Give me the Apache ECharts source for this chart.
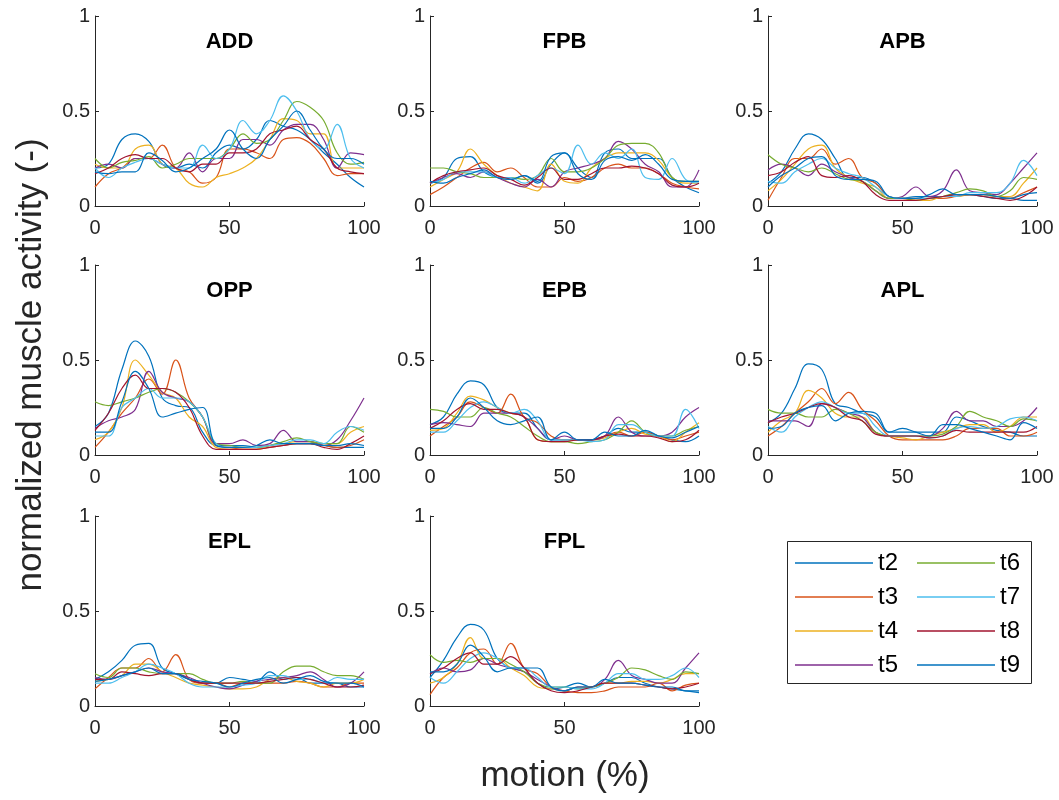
<!DOCTYPE html>
<html>
<head>
    <meta charset="utf-8">
    <title>normalized muscle activity</title>
    <script src="https://cdn.jsdelivr.net/npm/echarts@6/dist/echarts.min.js"></script>
    <style>
        html, body { margin: 0; padding: 0; background: #ffffff; }
        #main { width: 1059px; height: 800px; }
    </style>
</head>
<body>
<div id="main"></div>
<script>
    // x positions (% of motion), sampled every 5 %
    const motion = [0, 5, 10, 15, 20, 25, 30, 35, 40, 45, 50, 55, 60, 65, 70, 75, 80, 85, 90, 95, 100];
    const trials = ['t2', 't3', 't4', 't5', 't6', 't7', 't8', 't9'];
    const muscles = ['ADD', 'FPB', 'APB', 'OPP', 'EPB', 'APL', 'EPL', 'FPL'];
    const yTicks = [0, 0.5, 1];
    const xTicks = [0, 50, 100];

    // one row per trial, same order as trials
    const ADD = [
        [0.20, 0.22, 0.35, 0.38, 0.34, 0.22, 0.20, 0.22, 0.20, 0.28, 0.32, 0.30, 0.35, 0.45, 0.42, 0.40, 0.35, 0.28, 0.22, 0.15, 0.10],
        [0.10, 0.17, 0.20, 0.25, 0.25, 0.32, 0.20, 0.18, 0.12, 0.15, 0.30, 0.30, 0.28, 0.25, 0.35, 0.36, 0.33, 0.25, 0.16, 0.17, 0.17],
        [0.22, 0.20, 0.20, 0.30, 0.32, 0.22, 0.20, 0.12, 0.10, 0.15, 0.17, 0.20, 0.25, 0.35, 0.46, 0.45, 0.38, 0.38, 0.20, 0.20, 0.20],
        [0.20, 0.22, 0.20, 0.25, 0.25, 0.22, 0.20, 0.28, 0.18, 0.25, 0.25, 0.35, 0.35, 0.32, 0.40, 0.43, 0.43, 0.35, 0.20, 0.28, 0.27],
        [0.25, 0.20, 0.23, 0.24, 0.26, 0.20, 0.22, 0.25, 0.25, 0.25, 0.30, 0.38, 0.33, 0.35, 0.45, 0.55, 0.52, 0.45, 0.28, 0.22, 0.23],
        [0.20, 0.15, 0.20, 0.23, 0.25, 0.22, 0.20, 0.20, 0.32, 0.25, 0.30, 0.45, 0.38, 0.45, 0.58, 0.50, 0.35, 0.30, 0.43, 0.25, 0.20],
        [0.17, 0.20, 0.25, 0.27, 0.25, 0.25, 0.20, 0.18, 0.22, 0.22, 0.28, 0.28, 0.30, 0.38, 0.40, 0.42, 0.35, 0.30, 0.20, 0.18, 0.17],
        [0.18, 0.17, 0.18, 0.18, 0.28, 0.24, 0.18, 0.20, 0.25, 0.30, 0.40, 0.30, 0.25, 0.35, 0.42, 0.50, 0.40, 0.30, 0.25, 0.25, 0.22]
    ];
    const FPB = [
        [0.12, 0.15, 0.25, 0.26, 0.18, 0.15, 0.14, 0.16, 0.12, 0.22, 0.28, 0.20, 0.15, 0.28, 0.30, 0.25, 0.25, 0.25, 0.15, 0.10, 0.07],
        [0.06, 0.10, 0.15, 0.20, 0.23, 0.18, 0.20, 0.15, 0.10, 0.10, 0.15, 0.13, 0.15, 0.20, 0.22, 0.20, 0.20, 0.17, 0.12, 0.10, 0.09],
        [0.10, 0.14, 0.18, 0.30, 0.22, 0.16, 0.12, 0.10, 0.08, 0.22, 0.13, 0.12, 0.20, 0.25, 0.28, 0.28, 0.28, 0.24, 0.15, 0.12, 0.12],
        [0.12, 0.15, 0.17, 0.15, 0.18, 0.15, 0.12, 0.10, 0.14, 0.10, 0.18, 0.20, 0.22, 0.25, 0.34, 0.30, 0.22, 0.18, 0.10, 0.10, 0.19],
        [0.20, 0.20, 0.18, 0.17, 0.15, 0.15, 0.15, 0.14, 0.16, 0.25, 0.18, 0.18, 0.20, 0.25, 0.32, 0.33, 0.33, 0.28, 0.15, 0.13, 0.13],
        [0.12, 0.14, 0.18, 0.18, 0.18, 0.15, 0.15, 0.12, 0.16, 0.20, 0.17, 0.32, 0.22, 0.28, 0.25, 0.30, 0.15, 0.14, 0.25, 0.14, 0.12],
        [0.12, 0.16, 0.18, 0.19, 0.20, 0.16, 0.14, 0.11, 0.15, 0.20, 0.14, 0.14, 0.17, 0.20, 0.20, 0.21, 0.20, 0.17, 0.11, 0.10, 0.12],
        [0.13, 0.12, 0.15, 0.17, 0.19, 0.15, 0.14, 0.16, 0.13, 0.26, 0.28, 0.17, 0.14, 0.24, 0.26, 0.24, 0.27, 0.22, 0.14, 0.13, 0.13]
    ];
    const APB = [
        [0.12, 0.18, 0.30, 0.38, 0.35, 0.25, 0.15, 0.15, 0.12, 0.05, 0.04, 0.05, 0.05, 0.05, 0.06, 0.06, 0.05, 0.04, 0.04, 0.03, 0.03],
        [0.03, 0.15, 0.25, 0.25, 0.30, 0.22, 0.25, 0.15, 0.12, 0.05, 0.04, 0.04, 0.04, 0.04, 0.05, 0.06, 0.06, 0.05, 0.04, 0.07, 0.10],
        [0.08, 0.14, 0.22, 0.30, 0.32, 0.20, 0.15, 0.12, 0.10, 0.04, 0.04, 0.03, 0.03, 0.05, 0.05, 0.06, 0.06, 0.05, 0.05, 0.12, 0.20],
        [0.19, 0.22, 0.20, 0.16, 0.22, 0.18, 0.15, 0.13, 0.08, 0.04, 0.05, 0.10, 0.05, 0.08, 0.19, 0.08, 0.07, 0.06, 0.12, 0.20, 0.28],
        [0.27, 0.22, 0.20, 0.18, 0.20, 0.17, 0.14, 0.13, 0.08, 0.04, 0.04, 0.03, 0.04, 0.05, 0.07, 0.09, 0.08, 0.05, 0.08, 0.15, 0.14],
        [0.13, 0.12, 0.18, 0.22, 0.25, 0.20, 0.17, 0.15, 0.10, 0.05, 0.04, 0.04, 0.04, 0.05, 0.05, 0.07, 0.07, 0.07, 0.12, 0.24, 0.16],
        [0.16, 0.18, 0.23, 0.26, 0.16, 0.15, 0.16, 0.13, 0.06, 0.03, 0.03, 0.03, 0.04, 0.05, 0.06, 0.06, 0.05, 0.04, 0.03, 0.05, 0.10],
        [0.10, 0.16, 0.20, 0.25, 0.26, 0.16, 0.14, 0.14, 0.13, 0.05, 0.04, 0.04, 0.06, 0.09, 0.06, 0.06, 0.06, 0.05, 0.04, 0.06, 0.07]
    ];
    const OPP = [
        [0.15, 0.22, 0.45, 0.60, 0.52, 0.30, 0.26, 0.25, 0.12, 0.05, 0.05, 0.05, 0.04, 0.05, 0.06, 0.06, 0.06, 0.05, 0.04, 0.04, 0.04],
        [0.04, 0.12, 0.22, 0.30, 0.40, 0.32, 0.50, 0.30, 0.20, 0.05, 0.04, 0.03, 0.03, 0.04, 0.05, 0.06, 0.06, 0.05, 0.04, 0.05, 0.08],
        [0.08, 0.12, 0.25, 0.50, 0.42, 0.33, 0.30, 0.20, 0.15, 0.04, 0.03, 0.03, 0.03, 0.05, 0.06, 0.07, 0.07, 0.06, 0.06, 0.12, 0.15],
        [0.14, 0.18, 0.20, 0.24, 0.44, 0.33, 0.30, 0.28, 0.20, 0.06, 0.06, 0.08, 0.05, 0.06, 0.13, 0.07, 0.07, 0.05, 0.08, 0.18, 0.30],
        [0.28, 0.26, 0.28, 0.30, 0.33, 0.35, 0.33, 0.28, 0.20, 0.06, 0.05, 0.04, 0.04, 0.05, 0.07, 0.09, 0.07, 0.06, 0.06, 0.15, 0.12],
        [0.10, 0.10, 0.25, 0.30, 0.35, 0.30, 0.30, 0.28, 0.20, 0.06, 0.04, 0.04, 0.04, 0.05, 0.06, 0.08, 0.08, 0.06, 0.12, 0.15, 0.13],
        [0.13, 0.22, 0.35, 0.42, 0.35, 0.35, 0.33, 0.25, 0.10, 0.03, 0.03, 0.03, 0.03, 0.04, 0.05, 0.06, 0.06, 0.04, 0.03, 0.06, 0.10],
        [0.12, 0.12, 0.28, 0.44, 0.35, 0.20, 0.22, 0.24, 0.25, 0.05, 0.04, 0.04, 0.05, 0.08, 0.06, 0.06, 0.06, 0.05, 0.05, 0.06, 0.05]
    ];
    const EPB = [
        [0.16, 0.20, 0.32, 0.39, 0.37, 0.25, 0.22, 0.22, 0.14, 0.08, 0.08, 0.08, 0.08, 0.10, 0.14, 0.12, 0.12, 0.10, 0.08, 0.07, 0.10],
        [0.10, 0.15, 0.20, 0.28, 0.25, 0.22, 0.32, 0.20, 0.17, 0.10, 0.08, 0.08, 0.08, 0.10, 0.12, 0.10, 0.12, 0.10, 0.08, 0.10, 0.12],
        [0.13, 0.14, 0.22, 0.31, 0.29, 0.25, 0.22, 0.20, 0.08, 0.07, 0.07, 0.08, 0.08, 0.09, 0.12, 0.14, 0.11, 0.10, 0.07, 0.12, 0.17],
        [0.16, 0.17, 0.16, 0.15, 0.22, 0.22, 0.22, 0.20, 0.14, 0.08, 0.10, 0.08, 0.08, 0.10, 0.20, 0.12, 0.10, 0.10, 0.12, 0.20, 0.25],
        [0.24, 0.23, 0.20, 0.20, 0.25, 0.22, 0.20, 0.15, 0.10, 0.07, 0.07, 0.06, 0.07, 0.08, 0.12, 0.18, 0.12, 0.10, 0.10, 0.13, 0.15],
        [0.12, 0.12, 0.18, 0.25, 0.28, 0.25, 0.22, 0.24, 0.18, 0.08, 0.08, 0.08, 0.07, 0.08, 0.16, 0.16, 0.12, 0.10, 0.10, 0.24, 0.14],
        [0.14, 0.18, 0.24, 0.27, 0.24, 0.24, 0.22, 0.20, 0.08, 0.07, 0.07, 0.08, 0.08, 0.10, 0.11, 0.10, 0.10, 0.09, 0.07, 0.08, 0.13],
        [0.14, 0.14, 0.20, 0.30, 0.25, 0.18, 0.16, 0.18, 0.20, 0.08, 0.12, 0.08, 0.08, 0.12, 0.10, 0.10, 0.13, 0.10, 0.09, 0.12, 0.15]
    ];
    const APL = [
        [0.17, 0.22, 0.35, 0.48, 0.45, 0.27, 0.25, 0.22, 0.20, 0.12, 0.12, 0.12, 0.12, 0.12, 0.20, 0.18, 0.15, 0.13, 0.12, 0.10, 0.10],
        [0.10, 0.15, 0.22, 0.28, 0.35, 0.27, 0.33, 0.24, 0.18, 0.10, 0.08, 0.08, 0.08, 0.08, 0.10, 0.14, 0.14, 0.14, 0.10, 0.10, 0.12],
        [0.12, 0.18, 0.22, 0.34, 0.30, 0.22, 0.20, 0.20, 0.12, 0.10, 0.09, 0.08, 0.10, 0.12, 0.14, 0.16, 0.16, 0.12, 0.15, 0.20, 0.20],
        [0.18, 0.18, 0.18, 0.15, 0.27, 0.25, 0.22, 0.20, 0.12, 0.10, 0.10, 0.10, 0.10, 0.14, 0.23, 0.18, 0.18, 0.15, 0.15, 0.18, 0.25],
        [0.24, 0.22, 0.22, 0.20, 0.20, 0.24, 0.22, 0.18, 0.12, 0.10, 0.10, 0.10, 0.10, 0.11, 0.15, 0.23, 0.20, 0.18, 0.15, 0.19, 0.18],
        [0.15, 0.12, 0.20, 0.25, 0.28, 0.25, 0.22, 0.22, 0.15, 0.10, 0.10, 0.10, 0.09, 0.10, 0.14, 0.15, 0.14, 0.15, 0.19, 0.20, 0.18],
        [0.17, 0.20, 0.22, 0.25, 0.27, 0.25, 0.20, 0.18, 0.11, 0.10, 0.10, 0.10, 0.09, 0.10, 0.13, 0.12, 0.12, 0.12, 0.12, 0.12, 0.15],
        [0.14, 0.15, 0.22, 0.25, 0.26, 0.18, 0.22, 0.23, 0.22, 0.12, 0.14, 0.12, 0.10, 0.16, 0.16, 0.14, 0.12, 0.10, 0.08, 0.17, 0.14]
    ];
    const EPL = [
        [0.14, 0.18, 0.24, 0.32, 0.33, 0.20, 0.17, 0.14, 0.12, 0.12, 0.15, 0.14, 0.13, 0.18, 0.14, 0.15, 0.12, 0.12, 0.12, 0.10, 0.10],
        [0.09, 0.15, 0.20, 0.20, 0.25, 0.18, 0.27, 0.14, 0.12, 0.12, 0.10, 0.12, 0.12, 0.12, 0.12, 0.13, 0.12, 0.10, 0.10, 0.12, 0.12],
        [0.13, 0.14, 0.16, 0.22, 0.22, 0.18, 0.15, 0.12, 0.11, 0.10, 0.09, 0.09, 0.10, 0.14, 0.15, 0.13, 0.12, 0.10, 0.12, 0.12, 0.14],
        [0.15, 0.14, 0.16, 0.18, 0.20, 0.18, 0.17, 0.15, 0.12, 0.10, 0.09, 0.11, 0.13, 0.14, 0.15, 0.16, 0.18, 0.14, 0.10, 0.12, 0.18],
        [0.17, 0.15, 0.20, 0.20, 0.18, 0.17, 0.17, 0.17, 0.14, 0.12, 0.12, 0.13, 0.12, 0.12, 0.18, 0.21, 0.21, 0.18, 0.16, 0.16, 0.14],
        [0.12, 0.12, 0.15, 0.18, 0.22, 0.20, 0.17, 0.12, 0.10, 0.10, 0.10, 0.11, 0.12, 0.16, 0.16, 0.14, 0.14, 0.12, 0.15, 0.14, 0.14],
        [0.14, 0.14, 0.18, 0.17, 0.16, 0.17, 0.17, 0.14, 0.12, 0.12, 0.12, 0.12, 0.12, 0.13, 0.14, 0.15, 0.14, 0.12, 0.10, 0.10, 0.11],
        [0.13, 0.14, 0.16, 0.18, 0.20, 0.17, 0.17, 0.14, 0.13, 0.12, 0.10, 0.12, 0.14, 0.15, 0.12, 0.14, 0.16, 0.13, 0.12, 0.12, 0.10]
    ];
    const FPL = [
        [0.15, 0.24, 0.36, 0.43, 0.40, 0.25, 0.20, 0.18, 0.12, 0.09, 0.10, 0.12, 0.10, 0.12, 0.15, 0.15, 0.12, 0.10, 0.09, 0.08, 0.07],
        [0.06, 0.15, 0.20, 0.28, 0.30, 0.22, 0.33, 0.20, 0.17, 0.10, 0.08, 0.07, 0.07, 0.08, 0.10, 0.10, 0.10, 0.12, 0.08, 0.11, 0.12],
        [0.12, 0.15, 0.22, 0.36, 0.25, 0.25, 0.20, 0.16, 0.10, 0.09, 0.08, 0.10, 0.10, 0.12, 0.12, 0.13, 0.13, 0.12, 0.14, 0.17, 0.17],
        [0.17, 0.20, 0.18, 0.19, 0.25, 0.22, 0.20, 0.18, 0.14, 0.10, 0.08, 0.10, 0.10, 0.14, 0.24, 0.16, 0.14, 0.12, 0.12, 0.20, 0.28],
        [0.27, 0.23, 0.24, 0.23, 0.25, 0.25, 0.22, 0.18, 0.12, 0.10, 0.10, 0.09, 0.10, 0.12, 0.15, 0.20, 0.19, 0.16, 0.14, 0.18, 0.17],
        [0.15, 0.12, 0.18, 0.25, 0.28, 0.25, 0.20, 0.20, 0.15, 0.10, 0.10, 0.09, 0.09, 0.12, 0.17, 0.17, 0.14, 0.14, 0.16, 0.20, 0.15],
        [0.17, 0.20, 0.25, 0.28, 0.22, 0.22, 0.26, 0.20, 0.12, 0.08, 0.07, 0.08, 0.10, 0.12, 0.12, 0.12, 0.11, 0.10, 0.09, 0.10, 0.12],
        [0.18, 0.18, 0.22, 0.32, 0.26, 0.18, 0.20, 0.20, 0.20, 0.10, 0.08, 0.10, 0.10, 0.14, 0.12, 0.12, 0.11, 0.10, 0.10, 0.08, 0.08]
    ];
    const muscleData = [ADD, FPB, APB, OPP, EPB, APL, EPL, FPL];

    // MATLAB default line order (8th wraps back to the first)
    const colors = ['#0072BD', '#D95319', '#EDB120', '#7E2F8E', '#77AC30', '#4DBEEE', '#A2142F', '#0072BD'];

    var chart = echarts.init(document.getElementById('main'));

    var colLeft = [95, 430, 768];
    var rowTop = [16, 265, 516];
    var W = 269, H = 190;
    var font = '"Liberation Sans", Helvetica, Arial, sans-serif';
    var axisColor = '#262626';

    var grids = [], xAxes = [], yAxes = [], series = [], graphics = [];

    muscles.forEach(function (m, i) {
        var left = colLeft[i % 3], top = rowTop[Math.floor(i / 3)];
        grids.push({left: left, top: top, width: W, height: H});
        xAxes.push({
            type: 'value', gridIndex: i, min: xTicks[0], max: xTicks[2], interval: 50,
            axisLine: {lineStyle: {color: axisColor, width: 1}},
            axisTick: {inside: true, length: 4, lineStyle: {color: axisColor}},
            axisLabel: {color: axisColor, fontSize: 20, fontFamily: font, margin: 12},
            splitLine: {show: false}
        });
        yAxes.push({
            type: 'value', gridIndex: i, min: yTicks[0], max: yTicks[2], interval: 0.5,
            axisLine: {show: true, lineStyle: {color: axisColor, width: 1}},
            axisTick: {show: true, inside: true, length: 4, lineStyle: {color: axisColor}},
            axisLabel: {color: axisColor, fontSize: 20, fontFamily: font, margin: 5},
            splitLine: {show: false}
        });
        graphics.push({
            type: 'text', x: left + W / 2, y: top + 26,
            style: {text: m, font: 'bold 22px ' + font, fill: '#000', align: 'center', verticalAlign: 'middle'}
        });
        trials.forEach(function (t, j) {
            series.push({
                name: t, type: 'line', xAxisIndex: i, yAxisIndex: i,
                data: motion.map(function (x, k) { return [x, muscleData[i][j][k]]; }),
                smooth: 0.4, symbol: 'none', showSymbol: false,
                lineStyle: {width: 1.2, color: colors[j]},
                itemStyle: {color: colors[j]},
                silent: true
            });
        });
    });

    // axis names
    graphics.push({
        type: 'text', x: 565, y: 776,
        style: {text: 'motion (%)', font: '35px ' + font, fill: axisColor, align: 'center', verticalAlign: 'middle'}
    });
    graphics.push({
        type: 'text', x: 31, y: 365, rotation: Math.PI / 2,
        style: {text: 'normalized muscle activity (-)', font: '35px ' + font, fill: axisColor, align: 'center', verticalAlign: 'middle'}
    });
    // legend box
    graphics.push({
        type: 'rect', z: -1, shape: {x: 787.5, y: 541.5, width: 244, height: 142},
        style: {fill: '#fff', stroke: axisColor, lineWidth: 1}
    });

    function legendAt(left, names) {
        return {
            orient: 'vertical', left: left, top: 551, padding: 0,
            icon: 'rect', itemWidth: 78, itemHeight: 1.5, itemGap: 10,
            selectedMode: false, data: names,
            textStyle: {fontSize: 24, lineHeight: 24, color: '#000', fontFamily: font}
        };
    }

    var optionMain = {
        backgroundColor: '#ffffff',
        animation: false,
        grid: grids,
        xAxis: xAxes,
        yAxis: yAxes,
        legend: [legendAt(795, trials.slice(0, 4)), legendAt(917, trials.slice(4))],
        graphic: graphics,
        series: series
    };
    chart.setOption(optionMain);
</script>
</body>
</html>
